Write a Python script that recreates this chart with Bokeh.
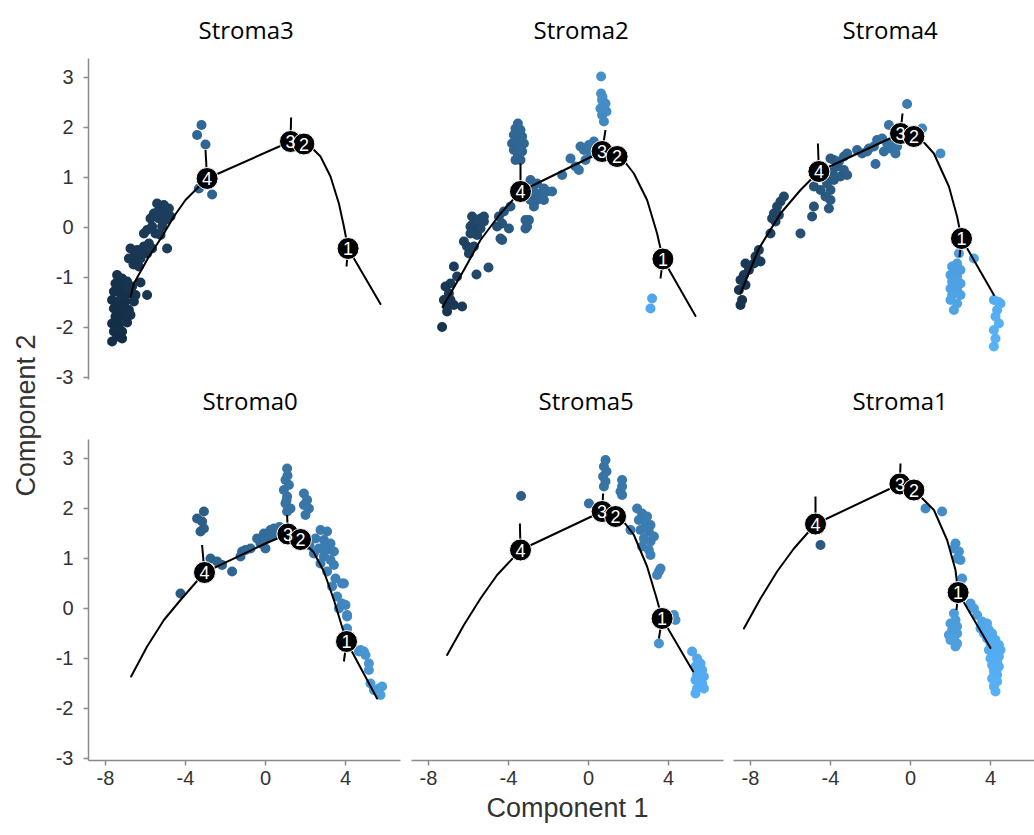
import math
from bokeh.plotting import figure
from bokeh.layouts import row, column
from bokeh.models import ColumnDataSource, LinearColorMapper, FixedTicker, Range1d, Label, Title
from bokeh.core.properties import value
from bokeh.embed import file_html
from bokeh.resources import INLINE

# ---------------- data ----------------
PANEL_TITLES = ["Stroma3", "Stroma2", "Stroma4", "Stroma0", "Stroma5", "Stroma1"]
X_TICKS = [-8, -4, 0, 4]
Y_TICKS = [-3, -2, -1, 0, 1, 2, 3]
NODE_LABELS = ["4", "3", "2", "1"]
X_LABEL = "Component 1"
Y_LABEL = "Component 2"
LOW_COLOR = "#132B43"
HIGH_COLOR = "#56B1F7"

# cells: (component1, component2, pseudotime shade 0..1)
S3_CELLS = [
    (-7.42, -0.96, 0.06), (-7.17, -1.03, 0.06), (-6.92, -1.09, 0.07), (-7.50, -1.13, 0.05), (-7.08, -1.19, 0.06),
    (-6.67, -1.19, 0.07), (-7.58, -1.29, 0.05), (-7.25, -1.33, 0.05), (-6.83, -1.33, 0.06), (-6.50, -1.36, 0.07),
    (-7.67, -1.46, 0.04), (-7.33, -1.49, 0.04), (-7.00, -1.49, 0.05), (-6.58, -1.49, 0.06), (-7.58, -1.63, 0.04),
    (-7.25, -1.66, 0.04), (-6.83, -1.66, 0.05), (-7.50, -1.79, 0.03), (-7.08, -1.79, 0.04), (-6.75, -1.76, 0.05),
    (-7.67, -1.93, 0.03), (-7.33, -1.96, 0.03), (-6.92, -1.91, 0.04), (-7.58, -2.09, 0.02), (-7.17, -2.09, 0.03),
    (-7.67, -2.29, 0.02), (-7.17, -2.23, 0.02), (-7.42, -2.19, 0.02), (-5.92, -1.36, 0.08), (-6.25, -1.11, 0.08),
    (-7.35, -1.20, 0.05), (-7.00, -1.35, 0.05), (-7.45, -1.55, 0.04), (-7.10, -1.60, 0.04), (-7.40, -1.85, 0.03),
    (-7.20, -1.40, 0.05), (-6.95, -1.20, 0.06), (-7.50, -2.00, 0.03),
    (-6.75, -0.43, 0.10), (-6.42, -0.46, 0.10), (-6.08, -0.39, 0.11), (-5.83, -0.33, 0.11), (-6.58, -0.59, 0.09),
    (-6.25, -0.63, 0.10), (-5.92, -0.53, 0.10), (-6.83, -0.63, 0.09), (-6.33, -0.79, 0.09), (-5.67, -0.43, 0.11),
    (-4.92, -0.43, 0.13), (-6.60, -0.75, 0.09), (-6.15, -0.50, 0.10),
    (-5.42, 0.47, 0.15), (-5.08, 0.44, 0.15), (-4.83, 0.37, 0.16), (-5.25, 0.34, 0.14), (-4.92, 0.27, 0.15),
    (-5.58, 0.27, 0.14), (-5.75, 0.17, 0.13), (-5.33, 0.17, 0.14), (-5.00, 0.14, 0.14), (-4.75, 0.21, 0.15),
    (-5.17, 0.01, 0.13), (-5.67, 0.01, 0.12), (-5.92, -0.06, 0.12), (-5.50, -0.13, 0.12), (-5.25, -0.16, 0.12),
    (-6.08, -0.13, 0.11), (-5.40, 0.30, 0.14), (-5.10, 0.25, 0.14),
    (-3.20, 2.04, 0.45), (-3.42, 1.84, 0.45), (-3.00, 1.65, 0.44), (-3.33, 0.77, 0.40), (-2.67, 0.65, 0.42),
]
S3_PATH = [(-6.75, -1.40), (-6.58, -1.13), (-5.83, -0.59), (-5.17, -0.19), (-4.58, 0.21), (-4.00, 0.54),
           (-3.50, 0.74), (-2.92, 0.97), (1.25, 1.71), (1.92, 1.66), (2.35, 1.57), (2.75, 1.41), (3.25, 1.01),
           (3.67, 0.47), (3.92, 0.01), (4.13, -0.43), (5.75, -1.54)]
S3_NODES = [(-2.92, 0.97), (1.25, 1.71), (1.92, 1.66), (4.13, -0.43)]
S3_STUBS = [(-3.00, 1.54), (1.28, 2.19), (4.05, -0.79)]

S2_CELLS = [
    (0.63, 3.01, 0.76), (0.63, 2.67, 0.74), (0.68, 2.54, 0.73), (0.85, 2.47, 0.73), (0.60, 2.37, 0.72),
    (0.90, 2.31, 0.72), (0.68, 2.24, 0.71), (0.77, 2.11, 0.70), (0.75, 2.40, 0.72), (0.70, 2.60, 0.74),
    (-3.53, 2.07, 0.46), (-3.65, 1.97, 0.46), (-3.40, 1.94, 0.45), (-3.73, 1.84, 0.45), (-3.32, 1.81, 0.45),
    (-3.53, 1.74, 0.45), (-3.82, 1.67, 0.44), (-3.23, 1.67, 0.44), (-3.53, 1.61, 0.44), (-3.73, 1.54, 0.43),
    (-3.32, 1.51, 0.43), (-3.53, 1.44, 0.43), (-3.65, 1.34, 0.42), (-3.40, 1.34, 0.42), (-3.53, 1.88, 0.45),
    (-3.45, 1.55, 0.44),
    (-2.90, 0.94, 0.45), (-2.57, 0.87, 0.46), (-2.23, 0.77, 0.47), (-2.73, 0.71, 0.45), (-2.40, 0.67, 0.46),
    (-2.07, 0.71, 0.47), (-1.82, 0.71, 0.48), (-2.90, 0.54, 0.44), (-2.57, 0.54, 0.45), (-2.23, 0.54, 0.46),
    (-2.73, 0.41, 0.44), (-2.98, 0.14, 0.42), (-3.07, 0.01, 0.42),
    (-1.32, 1.04, 0.50), (-0.90, 1.37, 0.52), (-0.65, 1.21, 0.53), (-0.48, 1.14, 0.53), (-0.23, 1.54, 0.55),
    (0.02, 1.64, 0.56), (-0.40, 1.61, 0.54), (0.27, 1.71, 0.57), (0.10, 1.47, 0.56), (-0.15, 1.34, 0.55),
    (-3.90, 0.41, 0.34), (-4.23, 0.31, 0.32), (-4.48, 0.21, 0.30), (-4.32, 0.07, 0.31), (-4.57, 0.01, 0.29),
    (-5.40, 0.17, 0.22), (-5.57, 0.11, 0.21), (-5.23, 0.11, 0.23), (-5.82, 0.04, 0.20), (-5.73, -0.06, 0.20),
    (-5.40, -0.03, 0.22), (-5.90, -0.13, 0.19), (-5.57, -0.16, 0.20), (-6.23, -0.29, 0.17), (-6.07, -0.39, 0.17),
    (-5.73, -0.39, 0.19), (-5.98, -0.53, 0.17), (-3.98, -0.03, 0.34), (-4.32, -0.26, 0.32), (-5.00, -0.81, 0.26),
    (-5.60, -0.95, 0.22), (-6.73, -0.79, 0.13), (-6.57, -0.99, 0.13), (-6.90, -1.13, 0.11), (-7.15, -1.19, 0.10),
    (-6.98, -1.33, 0.10), (-7.23, -1.46, 0.09), (-6.90, -1.46, 0.10), (-7.07, -1.59, 0.09), (-6.32, -1.59, 0.12),
    (-6.73, -1.56, 0.10), (-7.32, -2.00, 0.07), (-7.07, -1.69, 0.08), (-5.82, 0.21, 0.21), (-5.48, 0.14, 0.22),
    (-5.90, 0.01, 0.20), (-5.65, -0.13, 0.20), (-5.23, 0.21, 0.23), (-4.40, -0.23, 0.31), (-3.15, 0.14, 0.40),
    (-3.15, -0.03, 0.40),
    (3.18, -1.43, 0.92), (3.10, -1.63, 0.93),
]
S2_PATH = [(-7.30, -1.60), (-6.90, -1.33), (-6.23, -0.86), (-5.40, -0.26), (-4.40, 0.27), (-3.40, 0.71),
           (0.68, 1.51), (1.43, 1.41), (1.90, 1.26), (2.27, 1.07), (2.93, 0.54), (3.43, -0.13), (3.72, -0.64),
           (5.35, -1.78)]
S2_NODES = [(-3.40, 0.71), (0.68, 1.51), (1.43, 1.41), (3.72, -0.64)]
S2_STUBS = [(-3.40, 1.27), (0.85, 1.94), (3.60, -1.03)]

S4_CELLS = [
    (-0.17, 2.46, 0.60), (-1.08, 2.04, 0.55),
    (-1.67, 1.74, 0.50), (-1.42, 1.77, 0.51), (-1.17, 1.67, 0.52), (-0.83, 1.74, 0.54), (-0.58, 1.81, 0.55),
    (-1.83, 1.61, 0.49), (-2.17, 1.51, 0.47), (-2.42, 1.47, 0.46), (-2.67, 1.54, 0.45), (-3.17, 1.47, 0.43),
    (-3.33, 1.41, 0.42), (-3.58, 1.31, 0.41), (-3.83, 1.34, 0.40), (-1.00, 1.57, 0.53), (-0.67, 1.61, 0.54),
    (-0.75, 1.47, 0.54), (-1.75, 1.26, 0.49), (-1.33, 1.51, 0.51), (-2.08, 1.57, 0.47),
    (-4.00, 1.37, 0.36), (-3.67, 1.21, 0.37), (-3.33, 1.14, 0.38), (-3.17, 1.04, 0.38), (-3.50, 1.01, 0.37),
    (-3.83, 0.94, 0.36), (-4.17, 0.87, 0.35), (-4.00, 0.74, 0.35), (-4.25, 0.61, 0.34), (-4.00, 0.54, 0.35),
    (-4.08, 0.37, 0.34), (-4.50, 0.74, 0.32), (-4.83, 0.81, 0.30), (-4.83, 0.41, 0.30), (-4.92, 0.21, 0.29),
    (-5.50, -0.13, 0.27), (-4.33, 1.07, 0.34), (-3.90, 1.10, 0.36), (-4.20, 0.95, 0.35),
    (-6.33, 0.61, 0.22), (-6.50, 0.51, 0.21), (-6.67, 0.41, 0.20), (-6.83, 0.27, 0.19), (-6.92, 0.17, 0.18),
    (-6.58, 0.24, 0.20), (-6.75, 0.11, 0.19), (-7.00, -0.13, 0.17), (-7.58, -0.46, 0.14), (-7.75, -0.59, 0.13),
    (-7.50, -0.69, 0.13), (-7.83, -0.73, 0.12), (-8.25, -0.73, 0.11), (-8.08, -0.86, 0.11), (-8.33, -0.96, 0.10),
    (-8.50, -1.06, 0.09), (-8.25, -1.16, 0.09), (-8.58, -1.26, 0.08), (-8.42, -1.46, 0.07), (-8.50, -1.56, 0.07),
    (0.58, 1.97, 0.68), (1.50, 1.47, 0.72),
    (2.42, -0.53, 0.86), (2.33, -0.73, 0.86), (2.08, -0.79, 0.87), (2.50, -0.86, 0.87), (2.00, -0.96, 0.87),
    (2.33, -0.99, 0.88), (2.08, -1.09, 0.88), (2.50, -1.13, 0.88), (2.00, -1.23, 0.89), (2.33, -1.26, 0.89),
    (2.08, -1.36, 0.89), (2.50, -1.36, 0.89), (2.00, -1.46, 0.90), (2.33, -1.53, 0.90), (2.17, -1.66, 0.90),
    (2.25, -0.90, 0.87), (2.25, -1.20, 0.88),
    (3.17, -0.63, 0.90),
    (4.17, -1.46, 0.97), (4.50, -1.53, 0.97), (4.33, -1.66, 0.98), (4.25, -1.79, 0.98), (4.42, -1.93, 0.99),
    (4.17, -2.06, 0.99), (4.25, -2.23, 1.00), (4.17, -2.39, 1.00), (4.40, -1.50, 0.97),
]
S4_PATH = [(-8.50, -1.33), (-7.58, -0.43), (-6.50, 0.27), (-5.50, 0.74), (-4.58, 1.11), (-0.50, 1.87),
           (0.17, 1.81), (0.70, 1.68), (1.17, 1.47), (1.92, 0.81), (2.33, 0.21), (2.55, -0.23), (4.17, -1.36)]
S4_NODES = [(-4.58, 1.11), (-0.50, 1.87), (0.17, 1.81), (2.55, -0.23)]
S4_STUBS = [(-4.63, 1.67), (-0.40, 2.27), (2.45, -0.60)]

S0_CELLS = [
    (-3.08, 1.93, 0.38), (-3.42, 1.79, 0.38), (-3.17, 1.73, 0.38), (-3.08, 1.59, 0.38), (-3.25, 1.53, 0.38),
    (-2.75, 0.99, 0.40), (-2.42, 0.93, 0.41), (-2.17, 0.86, 0.42), (-1.67, 0.73, 0.43), (-4.25, 0.29, 0.36),
    (-1.25, 1.03, 0.45), (-1.00, 1.16, 0.45), (-0.75, 1.19, 0.46), (-0.42, 1.39, 0.47), (-0.25, 1.29, 0.47),
    (-0.08, 1.49, 0.48), (0.08, 1.39, 0.48), (0.25, 1.56, 0.49), (0.42, 1.59, 0.50), (0.58, 1.49, 0.50),
    (0.00, 1.19, 0.48), (-1.17, 1.13, 0.45), (0.70, 1.62, 0.51), (0.30, 1.45, 0.49),
    (1.08, 2.79, 0.55), (1.00, 2.56, 0.55), (1.17, 2.46, 0.55), (0.92, 2.36, 0.54), (1.08, 2.23, 0.54),
    (1.00, 2.09, 0.53), (1.25, 1.99, 0.53), (1.08, 1.93, 0.52), (1.10, 2.65, 0.55), (1.05, 2.15, 0.53),
    (1.92, 2.29, 0.57), (2.08, 2.16, 0.57), (1.92, 2.06, 0.56), (2.17, 1.99, 0.56), (2.00, 1.86, 0.56),
    (2.75, 1.56, 0.60), (3.08, 1.53, 0.60), (2.50, 1.39, 0.59), (2.92, 1.36, 0.60), (3.25, 1.29, 0.61),
    (2.67, 1.19, 0.60), (3.08, 1.16, 0.61), (3.42, 1.13, 0.62), (2.42, 1.09, 0.59), (2.92, 1.03, 0.61),
    (3.25, 0.96, 0.62), (2.75, 0.89, 0.61), (3.42, 0.86, 0.63), (3.08, 0.73, 0.63), (3.50, 0.59, 0.64),
    (3.33, 0.43, 0.65), (3.83, 0.49, 0.66), (3.58, 0.23, 0.67), (3.83, 0.09, 0.68), (4.08, -0.14, 0.70),
    (3.67, -0.01, 0.69), (2.20, 1.25, 0.58), (3.00, 1.25, 0.61), (3.92, 0.49, 0.66), (4.00, 0.06, 0.69),
    (4.08, -0.17, 0.70),
    (4.75, -0.84, 0.78), (5.00, -0.94, 0.79), (5.17, -1.11, 0.80), (5.25, -1.51, 0.83), (5.67, -1.61, 0.85),
    (5.75, -1.74, 0.86), (5.42, -1.64, 0.84), (4.67, -0.87, 0.78), (4.92, -0.87, 0.79), (5.17, -1.24, 0.81),
    (5.83, -1.57, 0.85), (4.08, -0.41, 0.74),
]
S0_PATH = [(-6.72, -1.37), (-5.92, -0.77), (-5.08, -0.24), (-4.25, 0.16), (-3.05, 0.71), (0.00, 1.29),
           (1.12, 1.48), (1.75, 1.37), (2.40, 1.12), (2.92, 0.73), (3.42, 0.16), (4.05, -0.67), (5.58, -1.81)]
S0_NODES = [(-3.05, 0.71), (1.12, 1.48), (1.75, 1.37), (4.05, -0.67)]
S0_STUBS = [(-3.17, 1.26), (1.08, 1.86), (3.92, -1.07)]

S5_CELLS = [
    (0.85, 2.96, 0.55), (0.77, 2.83, 0.55), (0.90, 2.73, 0.55), (0.73, 2.63, 0.54), (0.85, 2.53, 0.54),
    (0.77, 2.43, 0.54),
    (1.68, 2.56, 0.57), (1.68, 2.43, 0.57), (1.60, 2.33, 0.57), (1.68, 2.26, 0.57),
    (0.02, 2.09, 0.52), (-3.37, 2.24, 0.38),
    (2.43, 1.99, 0.60), (2.68, 1.89, 0.60), (2.93, 1.83, 0.61), (2.52, 1.76, 0.60), (2.85, 1.69, 0.61),
    (3.10, 1.66, 0.61), (2.60, 1.56, 0.61), (3.02, 1.53, 0.61), (3.27, 1.43, 0.62), (2.77, 1.39, 0.62),
    (3.10, 1.33, 0.62), (2.68, 1.23, 0.62), (3.02, 1.16, 0.63), (3.10, 1.06, 0.63), (2.10, 1.56, 0.59),
    (3.60, 0.79, 0.66), (3.43, 0.66, 0.66), (3.52, 0.73, 0.66),
    (4.27, -0.14, 0.75), (4.35, -0.24, 0.75), (3.52, -0.71, 0.78),
    (5.18, -0.87, 0.92), (5.43, -1.01, 0.93), (5.60, -1.11, 0.94), (5.35, -1.17, 0.94), (5.68, -1.24, 0.95),
    (5.43, -1.34, 0.95), (5.77, -1.37, 0.96), (5.35, -1.44, 0.96), (5.68, -1.51, 0.97), (5.43, -1.61, 0.97),
    (5.77, -1.61, 0.97), (5.35, -1.71, 0.98),
]
S5_PATH = [(-7.07, -0.94), (-6.23, -0.34), (-5.40, 0.19), (-4.57, 0.66), (-3.40, 1.16), (0.68, 1.93),
           (1.35, 1.83), (1.85, 1.68), (2.27, 1.46), (2.93, 0.83), (3.43, 0.16), (3.68, -0.21), (5.23, -1.27)]
S5_NODES = [(-3.40, 1.16), (0.68, 1.93), (1.35, 1.83), (3.68, -0.21)]
S5_STUBS = [(-3.43, 1.69), (0.73, 2.29), (3.52, -0.61)]

S1_CELLS = [
    (0.75, 1.99, 0.70), (1.58, 1.93, 0.72),
    (2.25, 1.29, 0.75), (2.17, 1.19, 0.75), (2.42, 1.13, 0.76), (2.33, 0.99, 0.76), (2.50, 0.96, 0.76),
    (2.58, 0.59, 0.78), (3.00, 0.09, 0.85), (3.17, -0.01, 0.86), (3.33, -0.14, 0.87),
    (2.17, -0.11, 0.84), (2.25, -0.24, 0.84), (2.00, -0.31, 0.84), (2.33, -0.37, 0.85), (2.08, -0.44, 0.85),
    (2.33, -0.51, 0.85), (1.92, -0.54, 0.85), (2.17, -0.61, 0.86), (2.00, -0.64, 0.86), (2.33, -0.71, 0.86),
    (2.25, -0.77, 0.86),
    (3.58, -0.27, 0.92), (3.83, -0.31, 0.93), (3.50, -0.41, 0.92), (3.92, -0.44, 0.93), (3.67, -0.51, 0.93),
    (4.08, -0.51, 0.94), (3.83, -0.61, 0.94), (4.25, -0.64, 0.95), (4.00, -0.71, 0.95), (4.42, -0.74, 0.96),
    (4.17, -0.81, 0.96), (4.50, -0.84, 0.96), (3.92, -0.84, 0.95), (4.25, -0.91, 0.96), (4.42, -0.97, 0.97),
    (4.00, -1.01, 0.96), (4.33, -1.07, 0.97), (4.08, -1.14, 0.97), (4.42, -1.17, 0.98), (4.17, -1.27, 0.98),
    (4.33, -1.34, 0.98), (4.08, -1.41, 0.99), (4.33, -1.47, 0.99), (4.17, -1.57, 0.99), (4.25, -1.67, 1.00),
    (4.17, -1.20, 0.98), (4.30, -1.25, 0.98), (4.20, -1.50, 0.99),
    (-4.50, 1.26, 0.35),
]
S1_PATH = [(-8.33, -0.41), (-7.50, 0.19), (-6.67, 0.73), (-5.83, 1.19), (-4.75, 1.68), (-0.53, 2.48),
           (0.17, 2.36), (1.17, 1.96), (1.83, 1.36), (2.25, 0.76), (2.38, 0.31), (4.00, -0.80)]
S1_NODES = [(-4.75, 1.68), (-0.53, 2.48), (0.17, 2.36), (2.38, 0.31)]
S1_STUBS = [(-4.75, 2.23), (-0.50, 2.89), (2.30, -0.04)]

# ---------------- style ----------------
def gradient(lo, hi, n=256):
    a = [int(lo[i:i + 2], 16) for i in (1, 3, 5)]
    b = [int(hi[i:i + 2], 16) for i in (1, 3, 5)]
    out = []
    for k in range(n):
        f = k / (n - 1)
        out.append("#%02x%02x%02x" % tuple(int(round(a[c] + (b[c] - a[c]) * f)) for c in range(3)))
    return out

MAPPER = LinearColorMapper(palette=gradient(LOW_COLOR, HIGH_COLOR), low=0, high=1)
AXIS_GREY = "#8a8a8a"
TICK_TEXT = "#333333"
TOP_H = 425      # top-row figure height (58 + 321 + 46)
BOT_H = 410      # bottom-row figure height (14 + 321 + 75)
LAB_W = 44       # strip holding the shared y-axis title
LEFT_MB = 44     # left margin of the first column (y axis lives here)


def style_axis(ax, ticks, size):
    ax.ticker = FixedTicker(ticks=ticks)
    ax.major_label_overrides = {t: str(t) for t in ticks}
    ax.axis_line_color = AXIS_GREY
    ax.axis_line_width = 1.5
    ax.major_tick_line_color = AXIS_GREY
    ax.major_tick_line_width = 1.5
    ax.major_tick_out = 5
    ax.major_tick_in = 0
    ax.minor_tick_line_color = None
    ax.major_label_text_font = "Liberation Sans"
    ax.major_label_text_font_size = size
    ax.major_label_text_color = TICK_TEXT


def panel_title(text, offset, standoff):
    return Title(text=text, align="left", offset=offset, vertical_align="top", standoff=standoff,
                 text_font="Open Sans", text_font_size="24px", text_font_style="normal",
                 text_color="black")


def make_panel(title, cells, path, nodes, stubs, *, width, mb_left, mb_right, x_end,
               top_row, show_y, show_x, title_dx, xlabel=None, below_title=None, below_dx=0):
    p = figure(width=width, height=TOP_H if top_row else BOT_H,
               x_range=Range1d(-8.85, x_end), y_range=Range1d(-3.05, 3.37),
               x_axis_location="below" if show_x else None,
               y_axis_location="left" if show_y else None,
               output_backend="svg", toolbar_location=None, tools="",
               min_border_left=mb_left, min_border_right=mb_right,
               min_border_top=58 if top_row else 14,
               min_border_bottom=46 if top_row else 75)
    p.outline_line_color = None
    p.background_fill_color = "white"
    p.border_fill_color = "white"
    for g in p.grid:
        g.visible = False
    if show_y:
        style_axis(p.yaxis[0], Y_TICKS, "20px")
        p.yaxis[0].major_label_standoff = 10
    if show_x:
        style_axis(p.xaxis[0], X_TICKS, "20px")
        p.xaxis[0].major_label_standoff = 5
        if xlabel:
            p.xaxis[0].axis_label = xlabel
            p.xaxis[0].axis_label_text_font = "Liberation Sans"
            p.xaxis[0].axis_label_text_font_size = "27px"
            p.xaxis[0].axis_label_text_font_style = "normal"
            p.xaxis[0].axis_label_text_color = TICK_TEXT
            p.xaxis[0].axis_label_standoff = 5

    if title is not None:
        p.title = panel_title(title, title_dx, 22)
    if below_title is not None:
        p.add_layout(panel_title(below_title, below_dx, 9), "below")

    src = ColumnDataSource(dict(x=[c[0] for c in cells], y=[c[1] for c in cells], t=[c[2] for c in cells]))
    p.scatter("x", "y", source=src, size=10, fill_color={"field": "t", "transform": MAPPER},
              line_color=None)

    p.line([q[0] for q in path], [q[1] for q in path], line_color="black", line_width=2,
           line_join="round", line_cap="round")
    stub_nodes = [nodes[0], nodes[1], nodes[3]]
    p.segment(x0=[n[0] for n in stub_nodes], y0=[n[1] for n in stub_nodes],
              x1=[s[0] for s in stubs], y1=[s[1] for s in stubs], line_color="black", line_width=2)
    nsrc = ColumnDataSource(dict(x=[n[0] for n in nodes], y=[n[1] for n in nodes], lab=NODE_LABELS))
    p.scatter("x", "y", source=nsrc, size=22, fill_color="black", line_color="white", line_width=1)
    p.text("x", "y", text="lab", source=nsrc, text_color="white", text_align="center",
           text_baseline="middle", text_font=value("Liberation Sans"), text_font_size="18px")
    return p


W1 = LEFT_MB + 312 + 6
# top row carries the bottom-row facet strips in its lower margin
f1 = make_panel(PANEL_TITLES[0], S3_CELLS, S3_PATH, S3_NODES, S3_STUBS, width=W1, mb_left=LEFT_MB, mb_right=6,
                x_end=6.75, top_row=True, show_y=True, show_x=False, title_dx=110,
                below_title=PANEL_TITLES[3], below_dx=114)
f2 = make_panel(PANEL_TITLES[1], S2_CELLS, S2_PATH, S2_NODES, S2_STUBS, width=322, mb_left=5, mb_right=5,
                x_end=6.75, top_row=True, show_y=False, show_x=False, title_dx=122,
                below_title=PANEL_TITLES[4], below_dx=127)
f3 = make_panel(PANEL_TITLES[2], S4_CELLS, S4_PATH, S4_NODES, S4_STUBS, width=306, mb_left=5, mb_right=0,
                x_end=6.2, top_row=True, show_y=False, show_x=False, title_dx=109,
                below_title=PANEL_TITLES[5], below_dx=119)
f4 = make_panel(None, S0_CELLS, S0_PATH, S0_NODES, S0_STUBS, width=W1, mb_left=LEFT_MB, mb_right=6,
                x_end=6.75, top_row=False, show_y=True, show_x=True, title_dx=0)
f5 = make_panel(None, S5_CELLS, S5_PATH, S5_NODES, S5_STUBS, width=322, mb_left=5, mb_right=5,
                x_end=6.75, top_row=False, show_y=False, show_x=True, title_dx=0, xlabel=X_LABEL)
f6 = make_panel(None, S1_CELLS, S1_PATH, S1_NODES, S1_STUBS, width=306, mb_left=5, mb_right=0,
                x_end=6.2, top_row=False, show_y=False, show_x=True, title_dx=0)

lab = figure(width=LAB_W, height=835, output_backend="svg", toolbar_location=None, tools="",
             x_axis_location=None, y_axis_location=None, min_border=0)
lab.outline_line_color = None
for g in lab.grid:
    g.visible = False
lab.add_layout(Label(x=25, y=420, x_units="screen", y_units="screen", text=Y_LABEL, angle=math.pi / 2,
                     text_align="center", text_baseline="middle", text_font="Liberation Sans",
                     text_font_size="27px", text_color=TICK_TEXT))

layout = row(lab, column(row(f1, f2, f3), row(f4, f5, f6)))
open("out.html", "w").write(file_html(layout, INLINE))
